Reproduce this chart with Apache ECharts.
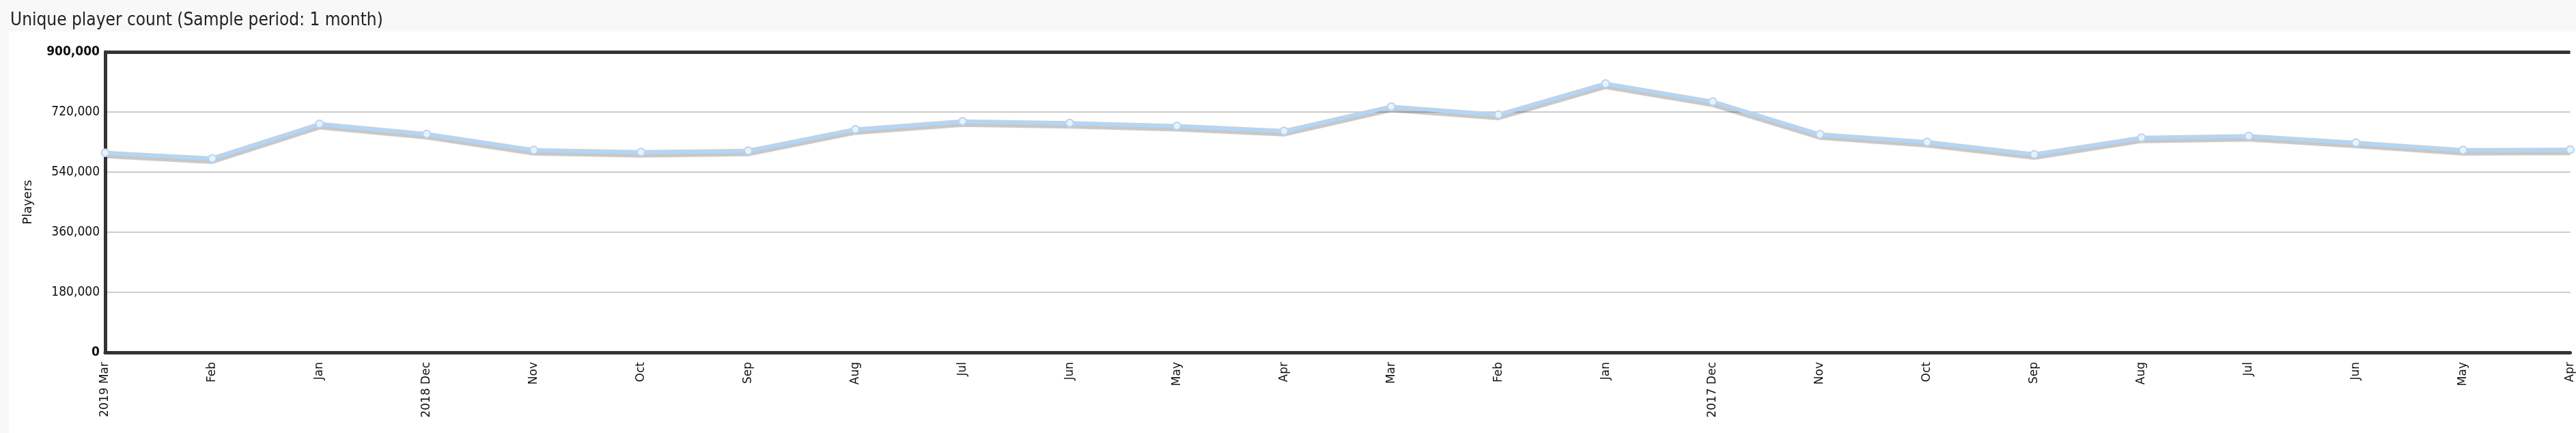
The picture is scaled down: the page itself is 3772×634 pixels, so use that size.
<!DOCTYPE html>
<html lang="en">
<head>
    <meta charset="UTF-8">
    <title>Unique player count</title>
    <style>
        html, body { margin: 0; padding: 0; background: #f8f8f8; }
    </style>
</head>
<body>
    <script src="https://cdn.jsdelivr.net/npm/echarts@6/dist/echarts.min.js"></script>
    <div id="main" style="width: 3772px;height:634px;"></div>
    <script>
        // months, newest first
        var months = ['2019 Mar', 'Feb', 'Jan', '2018 Dec', 'Nov', 'Oct', 'Sep', 'Aug', 'Jul', 'Jun', 'May', 'Apr',
                      'Mar', 'Feb', 'Jan', '2017 Dec', 'Nov', 'Oct', 'Sep', 'Aug', 'Jul', 'Jun', 'May', 'Apr'];
        var players = [598000, 581000, 684000, 654000, 606000, 600000, 604000, 668000, 692000, 687000, 678000, 663000,
                       736000, 712000, 805000, 751000, 653000, 630000, 593000, 643000, 648000, 628000, 606000, 607000];
        var yTicks = [0, 180000, 360000, 540000, 720000, 900000];

        var myChart = echarts.init(document.getElementById('main'));
        var option = {
            backgroundColor: '#f8f8f8',
            animation: false,
            graphic: [{
                type: 'rect', z: -10,
                shape: { x: 13, y: 46, width: 3772, height: 600 },
                style: { fill: '#ffffff' }
            }],
            title: {
                text: 'Unique player count (Sample period: 1 month)',
                left: 10, top: 12,
                textStyle: { fontFamily: 'DejaVu Sans Condensed', fontSize: 26, fontWeight: 'normal', color: '#222' }
            },
            grid: { left: 154, top: 76, right: -210, bottom: 118 },
            xAxis: {
                type: 'category',
                data: months,
                boundaryGap: false,
                axisLine: { lineStyle: { color: '#333', width: 5 } },
                axisTick: { show: false },
                axisLabel: { rotate: 90, fontFamily: 'DejaVu Sans', fontSize: 17, color: '#111', margin: 14, interval: 0 }
            },
            yAxis: {
                type: 'value',
                min: 0, max: 900000, interval: 180000,
                name: 'Players',
                nameLocation: 'middle',
                nameGap: 104,
                nameTextStyle: { fontFamily: 'DejaVu Sans', fontSize: 18, color: '#111' },
                axisLine: { show: true, lineStyle: { color: '#333', width: 5 } },
                axisTick: { show: false },
                splitLine: { lineStyle: { color: '#cccccc', width: 2 } },
                axisLabel: {
                    fontFamily: 'DejaVu Sans Condensed', fontSize: 19, color: '#111', margin: 8,
                    formatter: function (v) {
                        var s = v.toLocaleString('en-US');
                        return (v === yTicks[0] || v === yTicks[yTicks.length - 1]) ? '{b|' + s + '}' : s;
                    },
                    rich: { b: { fontWeight: 'bold', fontFamily: 'DejaVu Sans Condensed', fontSize: 19, color: '#111' } }
                }
            },
            series: [{
                type: 'line',
                data: players,
                symbol: 'circle',
                symbolSize: 11,
                lineStyle: { color: '#b5d5f2', width: 6, shadowColor: 'rgba(0,0,0,0.22)', shadowOffsetY: 5, shadowBlur: 1 },
                itemStyle: { color: '#eaf2fa', borderColor: '#b5d5f2', borderWidth: 2 }
            }, {
                // top frame line
                type: 'line', data: [], markLine: {
                    silent: true, symbol: 'none', label: { show: false },
                    lineStyle: { color: '#333', width: 5, type: 'solid' },
                    data: [{ yAxis: 900000 }]
                }
            }]
        };
        myChart.setOption(option);
    </script>
</body>
</html>
